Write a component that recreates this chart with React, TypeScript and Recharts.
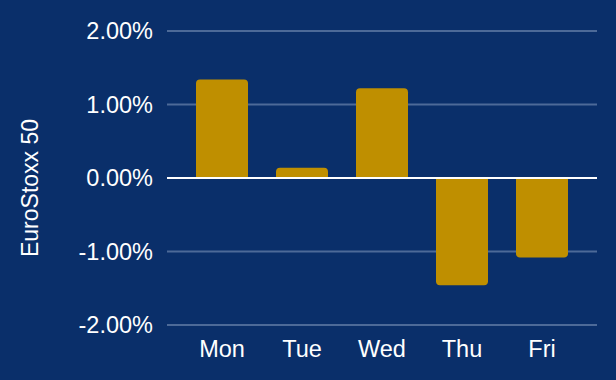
import { BarChart, Bar, XAxis, YAxis, CartesianGrid, ReferenceLine } from "recharts"

const days = ["Mon", "Tue", "Wed", "Thu", "Fri"]
const returns = [1.34, 0.14, 1.22, -1.46, -1.08]
const yTicks = [-2, -1, 0, 1, 2]

const data = days.map((day, i) => ({ day, value: returns[i] }))

const BG = "#0a2f6a"
const GOLD = "#bf8f00"
const FONT = "'Liberation Sans', Arial, sans-serif"

export default function App() {
    return (
        <div style={{ position: "absolute", left: 0, top: 0, width: 616, height: 380, background: BG }}>
            <BarChart
                width={616}
                height={380}
                data={data}
                margin={{ top: 31, right: 19, bottom: 25, left: 0 }}
                barSize={52}
            >
                <CartesianGrid vertical={false} stroke="#4d6a98" strokeWidth={2} />
                <XAxis
                    dataKey="day"
                    height={30}
                    padding={{ left: 15, right: 15 }}
                    axisLine={false}
                    tickLine={false}
                    tickSize={0}
                    tickMargin={15}
                    tick={{ fill: "#ffffff", fontSize: 23.5, fontFamily: FONT }}
                />
                <YAxis
                    width={167}
                    domain={[-2, 2]}
                    ticks={yTicks}
                    axisLine={false}
                    tickLine={false}
                    tickSize={0}
                    tickMargin={14}
                    tickFormatter={(v: number) => `${v.toFixed(2)}%`}
                    tick={{ fill: "#ffffff", fontSize: 23.5, fontFamily: FONT }}
                    label={{
                        content: () => (
                            <text
                                x={30}
                                y={188}
                                transform="rotate(-90, 30, 188)"
                                textAnchor="middle"
                                dominantBaseline="central"
                                fill="#ffffff"
                                fontSize={23}
                                fontFamily={FONT}
                            >
                                EuroStoxx 50
                            </text>
                        ),
                    }}
                />
                <Bar dataKey="value" fill={GOLD} radius={[4, 4, 0, 0]} isAnimationActive={false} />
                <ReferenceLine y={0} stroke="#ffffff" strokeWidth={2} />
            </BarChart>
        </div>
    )
}
